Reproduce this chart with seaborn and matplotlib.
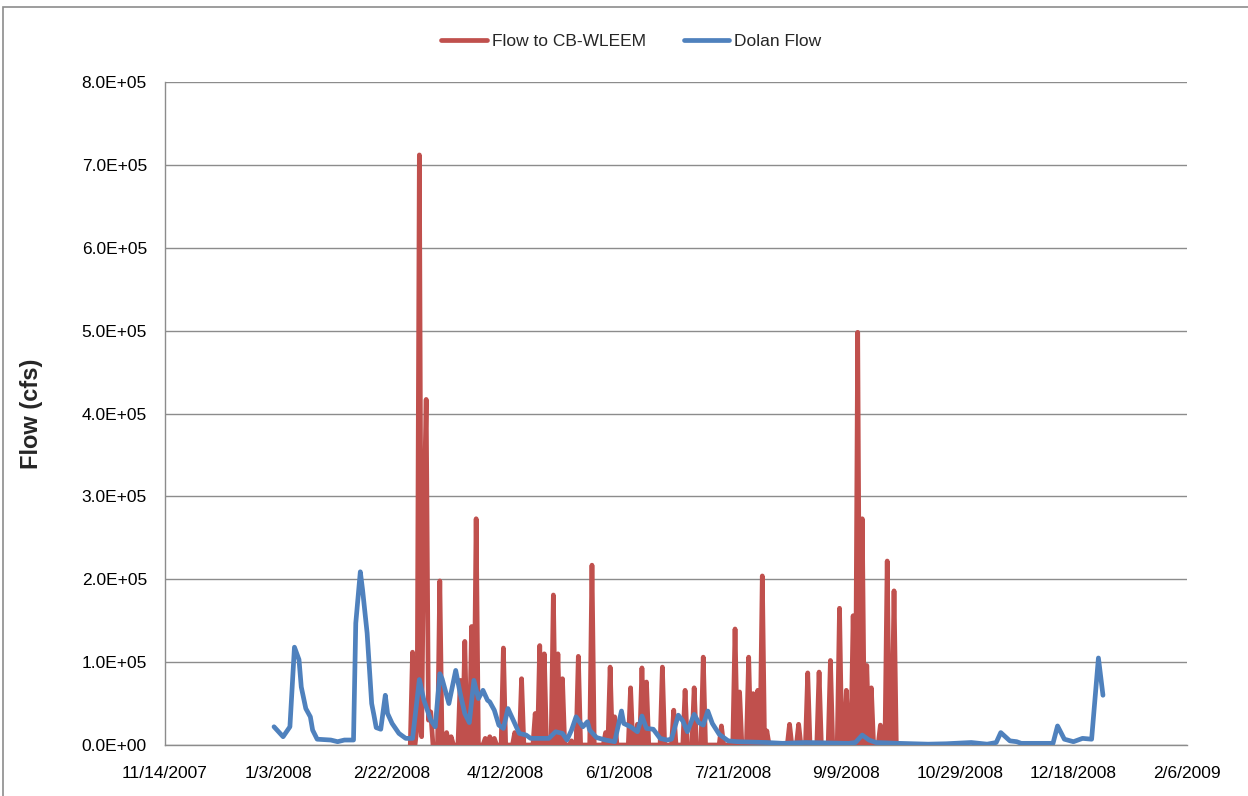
import pandas as pd
import numpy as np
import seaborn as sns
import matplotlib.pyplot as plt
from matplotlib.ticker import FuncFormatter, MultipleLocator
from matplotlib.patches import Rectangle

# -----------------------------
# Data
# -----------------------------
# Flow to CB-WLEEM: daily record, zero except on these days
cb_dates = [
    "2008-03-02", "2008-03-04", "2008-03-05", "2008-03-06", "2008-03-07",
    "2008-03-08", "2008-03-09", "2008-03-10", "2008-03-14", "2008-03-17",
    "2008-03-19", "2008-03-23", "2008-03-25", "2008-03-28", "2008-03-30",
    "2008-04-03", "2008-04-05", "2008-04-07", "2008-04-11", "2008-04-16",
    "2008-04-19", "2008-04-25", "2008-04-27", "2008-04-29", "2008-05-03",
    "2008-05-05", "2008-05-07", "2008-05-11", "2008-05-14", "2008-05-20",
    "2008-05-26", "2008-05-28", "2008-05-30", "2008-06-06", "2008-06-09",
    "2008-06-11", "2008-06-13", "2008-06-20", "2008-06-25", "2008-06-30",
    "2008-07-04", "2008-07-08", "2008-07-16", "2008-07-22", "2008-07-24",
    "2008-07-28", "2008-07-30", "2008-08-01", "2008-08-03", "2008-08-05",
    "2008-08-15", "2008-08-19", "2008-08-23", "2008-08-28", "2008-09-02",
    "2008-09-06", "2008-09-09", "2008-09-12", "2008-09-14", "2008-09-16",
    "2008-09-18", "2008-09-20", "2008-09-24", "2008-09-27", "2008-09-30",
]
cb_flow = [
    1.12e5, 0.2e5, 7.12e5, 0.1e5, 2.7e5,
    4.17e5, 0.3e5, 0.4e5, 1.98e5, 0.15e5,
    0.1e5, 0.78e5, 1.25e5, 1.43e5, 2.73e5,
    0.08e5, 0.1e5, 0.08e5, 1.17e5, 0.15e5,
    0.8e5, 0.38e5, 1.2e5, 1.1e5, 1.81e5,
    1.1e5, 0.8e5, 0.05e5, 1.07e5, 2.17e5,
    0.15e5, 0.94e5, 0.34e5, 0.69e5, 0.25e5,
    0.93e5, 0.76e5, 0.94e5, 0.42e5, 0.66e5,
    0.69e5, 1.06e5, 0.23e5, 1.4e5, 0.64e5,
    1.06e5, 0.62e5, 0.66e5, 2.04e5, 0.17e5,
    0.25e5, 0.25e5, 0.87e5, 0.88e5, 1.02e5,
    1.65e5, 0.66e5, 1.56e5, 4.98e5, 2.73e5,
    0.96e5, 0.69e5, 0.24e5, 2.22e5, 1.86e5,
]
cb_start, cb_end = "2008-03-01", "2008-10-02"

# Dolan Flow
dolan_dates = [
    "2008-01-01", "2008-01-05", "2008-01-08", "2008-01-10", "2008-01-12",
    "2008-01-13", "2008-01-15", "2008-01-17", "2008-01-18", "2008-01-20",
    "2008-01-26", "2008-01-29", "2008-02-01", "2008-02-05", "2008-02-06",
    "2008-02-08", "2008-02-09", "2008-02-11", "2008-02-13", "2008-02-14",
    "2008-02-15", "2008-02-17", "2008-02-19", "2008-02-20", "2008-02-22",
    "2008-02-25", "2008-02-28", "2008-03-02", "2008-03-05", "2008-03-07",
    "2008-03-10", "2008-03-12", "2008-03-14", "2008-03-15", "2008-03-18",
    "2008-03-21", "2008-03-23", "2008-03-25", "2008-03-27", "2008-03-29",
    "2008-03-31", "2008-04-02", "2008-04-04", "2008-04-05", "2008-04-07",
    "2008-04-09", "2008-04-11", "2008-04-13", "2008-04-15", "2008-04-18",
    "2008-04-21", "2008-04-23", "2008-04-28", "2008-05-01", "2008-05-04",
    "2008-05-07", "2008-05-09", "2008-05-11", "2008-05-13", "2008-05-16",
    "2008-05-18", "2008-05-19", "2008-05-22", "2008-05-26", "2008-05-30",
    "2008-06-02", "2008-06-03", "2008-06-06", "2008-06-09", "2008-06-11",
    "2008-06-13", "2008-06-16", "2008-06-19", "2008-06-22", "2008-06-24",
    "2008-06-27", "2008-06-29", "2008-07-01", "2008-07-04", "2008-07-06",
    "2008-07-08", "2008-07-10", "2008-07-12", "2008-07-15", "2008-07-19",
    "2008-07-23", "2008-08-05", "2008-08-12", "2008-08-22", "2008-09-10",
    "2008-09-13", "2008-09-16", "2008-09-19", "2008-09-22", "2008-10-02",
    "2008-10-15", "2008-10-23", "2008-11-03", "2008-11-10", "2008-11-14",
    "2008-11-16", "2008-11-20", "2008-11-23", "2008-11-25", "2008-12-09",
    "2008-12-11", "2008-12-14", "2008-12-18", "2008-12-22", "2008-12-26",
    "2008-12-29", "2008-12-31",
]
dolan_flow = [
    0.22e5, 0.1e5, 0.22e5, 1.18e5, 1.03e5,
    0.7e5, 0.44e5, 0.34e5, 0.18e5, 0.07e5,
    0.06e5, 0.04e5, 0.06e5, 0.06e5, 1.47e5,
    2.09e5, 1.87e5, 1.35e5, 0.5e5, 0.36e5,
    0.21e5, 0.19e5, 0.6e5, 0.38e5, 0.26e5,
    0.14e5, 0.08e5, 0.08e5, 0.79e5, 0.54e5,
    0.3e5, 0.22e5, 0.86e5, 0.8e5, 0.5e5,
    0.9e5, 0.62e5, 0.38e5, 0.27e5, 0.78e5,
    0.56e5, 0.66e5, 0.54e5, 0.52e5, 0.42e5,
    0.24e5, 0.2e5, 0.44e5, 0.32e5, 0.14e5,
    0.12e5, 0.08e5, 0.08e5, 0.08e5, 0.16e5,
    0.14e5, 0.06e5, 0.18e5, 0.34e5, 0.22e5,
    0.28e5, 0.18e5, 0.09e5, 0.06e5, 0.04e5,
    0.41e5, 0.26e5, 0.22e5, 0.16e5, 0.35e5,
    0.2e5, 0.19e5, 0.08e5, 0.06e5, 0.07e5,
    0.36e5, 0.29e5, 0.16e5, 0.37e5, 0.27e5,
    0.24e5, 0.41e5, 0.26e5, 0.13e5, 0.05e5,
    0.04e5, 0.03e5, 0.02e5, 0.03e5, 0.02e5,
    0.03e5, 0.12e5, 0.06e5, 0.03e5, 0.02e5,
    0.01e5, 0.015e5, 0.03e5, 0.01e5, 0.03e5,
    0.15e5, 0.05e5, 0.04e5, 0.02e5, 0.02e5,
    0.23e5, 0.07e5, 0.04e5, 0.08e5, 0.07e5,
    1.05e5, 0.6e5,
]

# build frames
cb = pd.Series(cb_flow, index=pd.to_datetime(cb_dates))
cb = cb.reindex(pd.date_range(cb_start, cb_end, freq="D"), fill_value=0)
df_cb = pd.DataFrame({"Date": cb.index, "Flow": cb.values})
df_dolan = pd.DataFrame({"Date": pd.to_datetime(dolan_dates), "Flow": dolan_flow})

# -----------------------------
# Plot
# -----------------------------
sns.set_style("white")
plt.rcParams["font.family"] = ["Liberation Sans", "DejaVu Sans"]

fig = plt.figure(figsize=(12.48, 7.96), dpi=100)
ax = fig.add_axes([165 / 1248, 1 - 745 / 796, 1022 / 1248, 663 / 796])

red = "#C0504D"
blue = "#4F81BD"

sns.lineplot(data=df_cb, x="Date", y="Flow", ax=ax, color=red,
             linewidth=3.4, label="Flow to CB-WLEEM", zorder=3)
sns.lineplot(data=df_dolan, x="Date", y="Flow", ax=ax, color=blue,
             linewidth=3.4, label="Dolan Flow", zorder=4)
for ln in ax.lines:
    ln.set_solid_joinstyle("round")
    ln.set_solid_capstyle("round")

x0 = pd.Timestamp("2007-11-14")
x1 = pd.Timestamp("2009-02-06")
ax.set_xlim(x0, x1)
ax.set_ylim(0, 8e5)

ticks = pd.date_range(x0, x1, freq="50D")
ax.set_xticks(ticks)
ax.set_xticklabels([f"{d.month}/{d.day}/{d.year}" for d in ticks])
ax.yaxis.set_major_locator(MultipleLocator(1e5))
ax.yaxis.set_major_formatter(FuncFormatter(lambda v, p: f"{v:.1E}"))

ax.grid(axis="y", color="#8c8c8c", linewidth=1.0)
ax.set_axisbelow(True)
for s in ["top", "right"]:
    ax.spines[s].set_visible(False)
for s in ["left", "bottom"]:
    ax.spines[s].set_color("#8c8c8c")
    ax.spines[s].set_linewidth(1.0)

ax.tick_params(axis="both", which="major", direction="out", length=5,
               width=1, color="#8c8c8c", labelsize=12.5, labelcolor="black")
ax.tick_params(axis="x", pad=10)
ax.tick_params(axis="y", pad=8)

ax.set_xlabel("")
ax.set_ylabel("Flow (cfs)", fontsize=17, fontweight="bold", labelpad=28)

ax.get_legend().remove()
handles, labels = ax.get_legend_handles_labels()
fig.legend(handles, labels, loc="center", bbox_to_anchor=(0.506, 0.948),
           ncol=2, frameon=False, fontsize=12.5, handlelength=2.6,
           handletextpad=0.3, columnspacing=2.2)

# chart area border
fig.patches.append(Rectangle((3 / 1248, -0.05), 1.1, 1 - 7 / 796 + 0.05,
                             transform=fig.transFigure, fill=False,
                             edgecolor="#8c8c8c", linewidth=1.2))

fig.savefig("out.png", dpi=100)
